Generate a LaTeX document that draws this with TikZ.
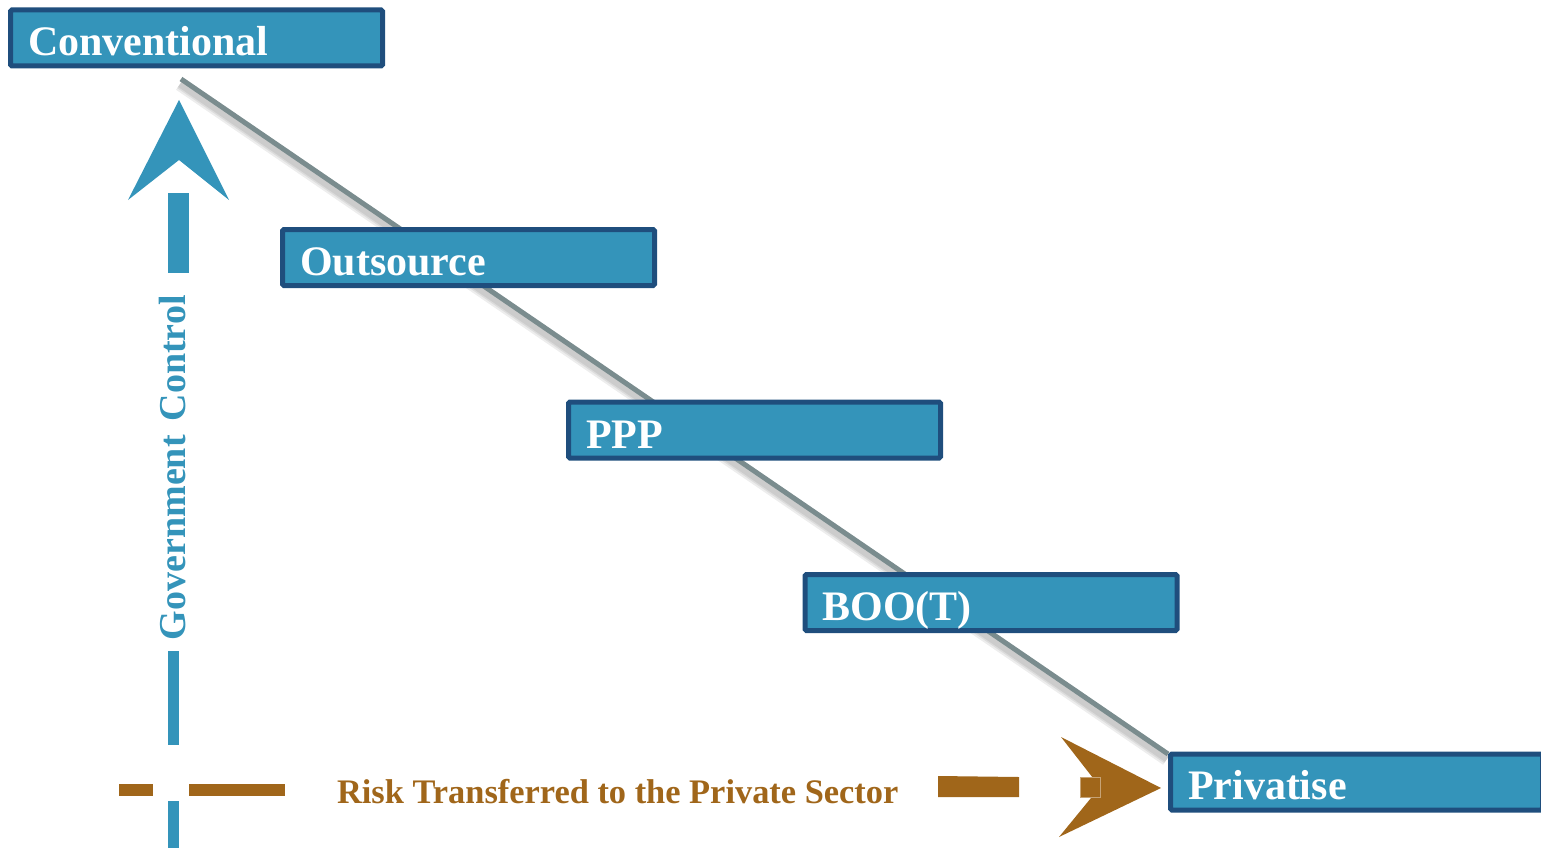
\documentclass[tikz,border=0pt]{standalone}
\usepackage{fontspec}
\setmainfont{Liberation Serif}
\usetikzlibrary{calc}
\definecolor{boxfill}{RGB}{52,148,186}
\definecolor{boxedge}{RGB}{31,78,125}
\definecolor{riskbrown}{RGB}{160,102,26}
\definecolor{govblue}{RGB}{52,148,186}
\definecolor{diaggray}{RGB}{122,140,142}
\tikzset{
  stagebox/.style={draw=boxedge, fill=boxfill, line width=5pt, rounded corners=1.5pt,
    minimum width=372pt, minimum height=56pt, inner sep=0pt, outer sep=0pt},
  stagelabel/.style={anchor=base west, text=white, inner sep=0pt, outer sep=0pt,
    font=\bfseries\fontsize{42}{42}\selectfont},
  diagline/.style={line width=5pt, draw=diaggray},
  diagshadow/.style={draw=black, opacity=0.07},
}
\begin{document}
\begin{tikzpicture}[x=1pt,y=-1pt]
\useasboundingbox (0,0) rectangle (1541,848);
\clip (0,0) rectangle (1541,848);

% diagonal trend line with soft shadow
\coordinate (dstart) at (181,79);
\coordinate (dend) at (1168,754);
\foreach \w in {14,10,7}{
  \draw[diagshadow, line width=\w pt] ($(dstart)+(-1,5)$) -- ($(dend)+(-1,5)$);
}
\draw[diagline] (dstart) -- (dend);

% stage boxes
\node[stagebox] (conv) at (196.5,38) {};
\node[stagebox] (outs) at (468.5,257.5) {};
\node[stagebox] (ppp)  at (754.5,430) {};
\node[stagebox] (boot) at (991,602.5) {};
\node[stagebox] (priv) at (1356.5,782) {};

\node[stagelabel] (convt) at ($(conv.west)+(17.5,18)$) {Conventional};
\node[stagelabel] (outst) at ($(outs.west)+(17.5,18)$) {Outsource};
\node[stagelabel] (pppt)  at ($(ppp.west)+(17.5,18)$) {PPP};
\node[stagelabel] (boott) at ($(boot.west)+(17.5,18)$) {BOO(T)};
\node[stagelabel] (privt) at ($(priv.west)+(17.5,17)$) {Privatise};

% vertical government control arrow
\fill[govblue] (179,100) -- (229,200) -- (179,160) -- (128,200) -- cycle;
\fill[govblue] (168,193) rectangle (189,273);
\fill[govblue] (168,651) rectangle (179,745);
\fill[govblue] (168,801) rectangle (179,848);
\node[rotate=90, anchor=base west, text=govblue, inner sep=0pt, outer sep=0pt,
  font=\bfseries\fontsize{38}{38}\selectfont] (gov) at (185,640)
  {Government\hspace{14pt}Control};

% horizontal risk arrow
\fill[riskbrown] (119,784) rectangle (153,796);
\fill[riskbrown] (189,784) rectangle (285,796);
\node[anchor=base west, text=riskbrown, inner sep=0pt, outer sep=0pt,
  font=\bfseries\fontsize{34.4}{34.4}\selectfont] (risk) at (337,803)
  {Risk Transferred to the Private Sector};
\fill[riskbrown] (938,776) -- (1019,777) -- (1019,797) -- (938,797) -- cycle;
\fill[riskbrown] (1161,788) -- (1061,737) -- (1100,787) -- (1059,837) -- cycle;
\filldraw[fill=riskbrown, draw=riskbrown!60!white, line width=0.6pt] (1080,777) rectangle (1100,797);
\end{tikzpicture}
\end{document}
